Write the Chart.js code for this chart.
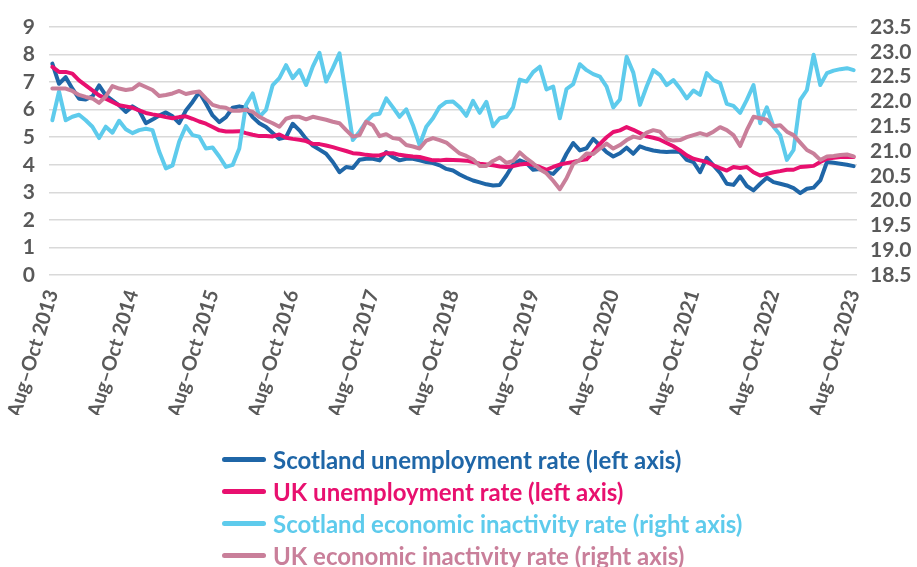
<!DOCTYPE html>
<html>
<head>
<meta charset="utf-8">
<title>Unemployment and economic inactivity rates</title>
<script src="https://cdn.jsdelivr.net/npm/chart.js@4.4.1/dist/chart.umd.min.js"></script>
<style>
  html, body { margin: 0; padding: 0; background: #fff; }
  #wrap { position: relative; width: 917px; height: 567px; }
  #legend {
    position: absolute; left: 222px; top: 443px;
    font-family: Lato, sans-serif; font-weight: 700; font-size: 24px;
  }
  .item { display: flex; align-items: center; height: 32px; white-space: nowrap; }
  .swatch { width: 44px; height: 5px; border-radius: 3px; margin-right: 7px; }
</style>
</head>
<body>
<div id="wrap">
  <canvas id="chart" width="917" height="567"></canvas>
  <div id="legend"></div>
</div>
<script>
// rolling three-month periods, Aug–Oct 2013 to Aug–Oct 2023
const monthNames = ['Jan', 'Feb', 'Mar', 'Apr', 'May', 'Jun', 'Jul', 'Aug', 'Sep', 'Oct', 'Nov', 'Dec'];
const periods = [];
for (let i = 0; i <= 120; i++) {
    const start = 7 + i;
    const end = start + 2;
    periods.push(monthNames[start % 12] + '–' + monthNames[end % 12] + ' ' + (2013 + Math.floor(end / 12)));
}

// unemployment rates, % (left axis)
const scotlandUnemployment = [
    7.67, 6.94, 7.18, 6.76, 6.40, 6.37, 6.48, 6.88, 6.52, 6.34,
    6.16, 5.92, 6.12, 5.97, 5.51, 5.64, 5.79, 5.90, 5.76, 5.51,
    5.97, 6.28, 6.64, 6.22, 5.79, 5.55, 5.73, 6.07, 6.12, 6.07,
    5.73, 5.51, 5.37, 5.15, 4.94, 5.00, 5.49, 5.25, 4.94, 4.70,
    4.55, 4.40, 4.10, 3.73, 3.92, 3.88, 4.18, 4.22, 4.22, 4.16,
    4.46, 4.28, 4.16, 4.22, 4.22, 4.16, 4.10, 4.06, 3.98, 3.85,
    3.79, 3.65, 3.53, 3.43, 3.36, 3.29, 3.25, 3.27, 3.61, 4.01,
    4.16, 4.06, 3.82, 3.85, 3.73, 3.67, 3.92, 4.40, 4.79, 4.52,
    4.60, 4.94, 4.70, 4.46, 4.30, 4.42, 4.62, 4.40, 4.67, 4.58,
    4.52, 4.48, 4.46, 4.48, 4.46, 4.18, 4.10, 3.73, 4.25, 3.98,
    3.70, 3.31, 3.27, 3.58, 3.23, 3.07, 3.31, 3.53, 3.37, 3.31,
    3.25, 3.15, 2.97, 3.13, 3.17, 3.43, 4.10, 4.07, 4.04, 4.00,
    3.95
];
const ukUnemployment = [
    7.55, 7.37, 7.37, 7.31, 7.06, 6.88, 6.70, 6.52, 6.40, 6.28,
    6.16, 6.12, 6.07, 5.97, 5.88, 5.83, 5.79, 5.73, 5.69, 5.73,
    5.76, 5.67, 5.57, 5.49, 5.37, 5.25, 5.21, 5.21, 5.22, 5.15,
    5.09, 5.04, 5.04, 5.03, 5.10, 4.98, 4.94, 4.91, 4.86, 4.76,
    4.75, 4.70, 4.64, 4.57, 4.50, 4.42, 4.40, 4.36, 4.34, 4.34,
    4.42, 4.42, 4.36, 4.33, 4.30, 4.28, 4.22, 4.16, 4.16, 4.18,
    4.17, 4.16, 4.15, 4.10, 4.04, 4.01, 3.98, 3.94, 3.92, 3.95,
    4.01, 4.04, 4.00, 3.92, 3.82, 3.92, 4.01, 4.06, 4.10, 4.16,
    4.20, 4.46, 4.76, 5.00, 5.19, 5.25, 5.37, 5.27, 5.15, 5.03,
    4.98, 4.91, 4.79, 4.67, 4.52, 4.34, 4.22, 4.16, 4.10, 3.98,
    3.88, 3.79, 3.92, 3.88, 3.92, 3.73, 3.61, 3.67, 3.73, 3.77,
    3.82, 3.82, 3.92, 3.94, 3.96, 4.10, 4.22, 4.25, 4.28, 4.28,
    4.28
];

// economic inactivity rates, % (right axis)
const scotlandInactivity = [
    21.62, 22.20, 21.62, 21.69, 21.73, 21.62, 21.49, 21.26, 21.49, 21.37,
    21.61, 21.44, 21.36, 21.42, 21.45, 21.42, 20.99, 20.65, 20.71, 21.19,
    21.50, 21.32, 21.29, 21.05, 21.07, 20.89, 20.68, 20.72, 21.05, 21.93,
    22.16, 21.69, 21.83, 22.33, 22.47, 22.73, 22.47, 22.63, 22.33, 22.70,
    22.98, 22.40, 22.67, 22.97, 22.10, 21.22, 21.39, 21.59, 21.73, 21.75,
    22.06, 21.88, 21.69, 21.84, 21.52, 21.12, 21.49, 21.66, 21.89, 21.99,
    22.00, 21.88, 21.71, 22.01, 21.77, 21.99, 21.50, 21.66, 21.69, 21.88,
    22.44, 22.40, 22.59, 22.70, 22.24, 22.30, 21.66, 22.25, 22.35, 22.75,
    22.63, 22.55, 22.50, 22.30, 21.88, 22.04, 22.90, 22.58, 21.93, 22.30,
    22.63, 22.53, 22.33, 22.43, 22.26, 22.06, 22.22, 22.13, 22.57, 22.43,
    22.37, 21.95, 21.91, 21.77, 22.03, 22.33, 21.56, 21.88, 21.49, 21.32,
    20.82, 21.02, 22.03, 22.23, 22.94, 22.33, 22.57, 22.62, 22.65, 22.67,
    22.63
];
const ukInactivity = [
    22.26, 22.26, 22.26, 22.21, 22.13, 22.09, 22.06, 21.97, 22.10, 22.31,
    22.26, 22.23, 22.25, 22.35, 22.29, 22.23, 22.11, 22.13, 22.16, 22.21,
    22.15, 22.18, 22.20, 22.06, 21.93, 21.89, 21.87, 21.81, 21.81, 21.83,
    21.79, 21.69, 21.62, 21.56, 21.49, 21.65, 21.69, 21.69, 21.64, 21.69,
    21.66, 21.63, 21.59, 21.56, 21.42, 21.29, 21.32, 21.59, 21.52, 21.30,
    21.34, 21.26, 21.24, 21.12, 21.09, 21.05, 21.21, 21.26, 21.22, 21.17,
    21.06, 20.95, 20.90, 20.83, 20.70, 20.70, 20.80, 20.87, 20.76, 20.80,
    20.97, 20.85, 20.75, 20.63, 20.55, 20.40, 20.23, 20.45, 20.74, 20.82,
    20.95, 20.94, 21.05, 21.15, 21.05, 21.12, 21.22, 21.29, 21.26, 21.37,
    21.42, 21.39, 21.24, 21.21, 21.22, 21.28, 21.32, 21.36, 21.32, 21.39,
    21.48, 21.42, 21.32, 21.10, 21.42, 21.69, 21.66, 21.63, 21.50, 21.52,
    21.39, 21.32, 21.17, 21.02, 20.95, 20.82, 20.89, 20.90, 20.92, 20.93,
    20.89
];

const leftTicks = { min: 0, max: 9, step: 1 };
const rightTicks = { min: 18.5, max: 23.5, step: 0.5 };

const textGrey = '#595959';
const tickFont = { family: 'Lato', size: 21, weight: 'bold' };

function line(label, data, color, axis, order) {
    return {
        label: label,
        data: data,
        yAxisID: axis,
        borderColor: color,
        backgroundColor: color,
        borderWidth: 4,
        pointRadius: 0,
        tension: 0,
        borderCapStyle: 'round',
        borderJoinStyle: 'round',
        order: order
    };
}

const datasets = [
    line('Scotland unemployment rate (left axis)', scotlandUnemployment, '#1f66a7', 'y', 4),
    line('UK unemployment rate (left axis)', ukUnemployment, '#e8106f', 'y', 3),
    line('Scotland economic inactivity rate (right axis)', scotlandInactivity, '#5ecbec', 'y2', 2),
    line('UK economic inactivity rate (right axis)', ukInactivity, '#c97f9a', 'y2', 1)
];

function draw() {
    const ctx = document.getElementById('chart').getContext('2d');
    const chart = new Chart(ctx, {
        type: 'line',
        data: { labels: periods, datasets: datasets },
        options: {
            responsive: false,
            animation: false,
            events: [],
            layout: { padding: { top: 27, bottom: 152, left: 0, right: 0 } },
            plugins: { legend: { display: false }, tooltip: { enabled: false } },
            scales: {
                x: {
                    offset: true,
                    grid: { display: false },
                    border: { display: false },
                    ticks: {
                        autoSkip: false,
                        minRotation: 73,
                        maxRotation: 73,
                        padding: 4,
                        color: textGrey,
                        font: { family: 'Lato', size: 20, weight: 'bold' },
                        callback: function(value, index) {
                            return index % 12 === 0 ? periods[index] : '';
                        }
                    },
                    afterFit: function(scale) { scale.height = 140; }
                },
                y: {
                    position: 'left',
                    min: leftTicks.min,
                    max: leftTicks.max,
                    grid: { color: '#d9d9d9', lineWidth: 1.5, drawTicks: false },
                    border: { display: false },
                    ticks: {
                        stepSize: leftTicks.step,
                        autoSkip: false,
                        padding: 14,
                        color: textGrey,
                        font: tickFont
                    },
                    afterFit: function(scale) { scale.width = 49; }
                },
                y2: {
                    position: 'right',
                    min: rightTicks.min,
                    max: rightTicks.max,
                    grid: { display: false, drawTicks: false },
                    border: { display: false },
                    ticks: {
                        stepSize: rightTicks.step,
                        autoSkip: false,
                        padding: 13,
                        color: textGrey,
                        font: tickFont,
                        callback: function(v) { return v.toFixed(1); }
                    },
                    afterFit: function(scale) { scale.width = 60; }
                }
            }
        }
    });

    // legend stacked under the chart, one series per row
    const legend = document.getElementById('legend');
    chart.data.datasets.forEach(function(ds) {
        const row = document.createElement('div');
        row.className = 'item';
        row.style.color = ds.borderColor;
        const swatch = document.createElement('span');
        swatch.className = 'swatch';
        swatch.style.background = ds.borderColor;
        const text = document.createElement('span');
        text.textContent = ds.label;
        row.appendChild(swatch);
        row.appendChild(text);
        legend.appendChild(row);
    });
}

document.fonts.load('bold 20px Lato').then(draw, draw);
</script>
</body>
</html>
